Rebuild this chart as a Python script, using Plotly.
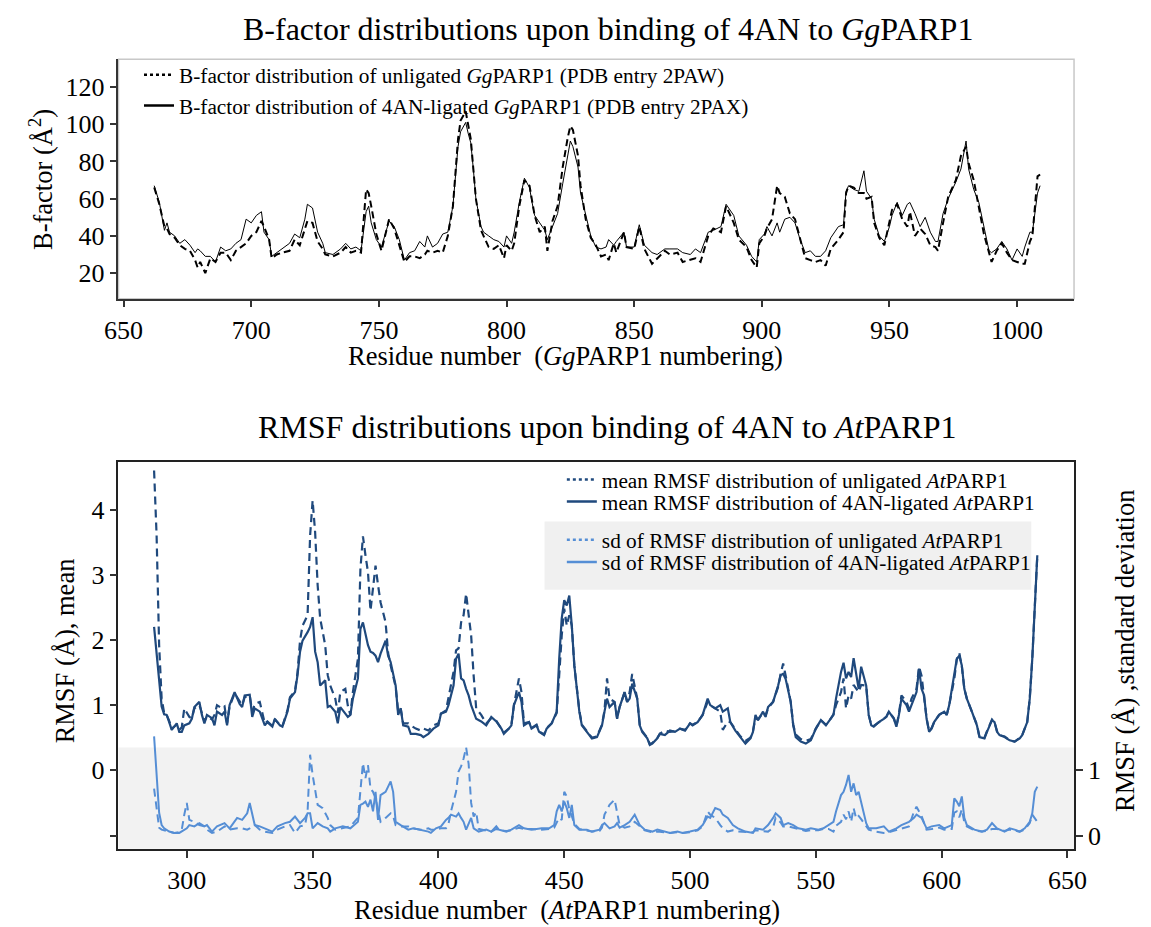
import plotly.graph_objects as go

# ---------------- data: top panel (GgPARP1 B-factors) ----------------
gg_residue = [662,664,666,667,668,670,672,674,676,678,679,680,682,684,686,688,690,692,694,696,698,700,702,704,705,707,708,710,712,715,717,719,721,722,724,726,728,729,732,735,737,739,741,743,745,746,747,749,751,754,756,758,760,762,764,766,768,769,771,773,775,777,779,781,782,784,785,786,787,788,790,791,793,795,797,799,800,802,803,805,807,809,810,811,813,815,816,818,820,822,824,825,826,828,829,831,833,835,837,839,840,842,843,846,847,850,852,854,857,859,862,864,867,869,872,874,876,879,881,884,886,889,891,894,896,898,899,901,902,904,906,907,909,911,913,915,917,919,921,923,925,927,930,932,933,934,936,938,940,941,943,944,946,948,950,951,953,955,957,958,960,962,964,966,968,969,971,973,976,978,980,981,983,985,987,989,990,992,994,996,998,1000,1002,1003,1005,1006,1008,1009]
bfac_ligated = [67,58,43,47,42,40,36,38,35,31,33,32,29,29,26,34,32,33,36,38,49,47,51,53,42,38,29,31,33,36,41,39,49,57,55,42,36,31,30,33,36,33,34,32,53,56,47,38,34,48,45,38,27,31,32,37,34,40,34,36,41,42,56,88,96,101,95,90,76,60,45,42,40,38,37,34,40,36,42,58,71,66,58,51,47,43,38,45,52,68,84,91,88,77,63,51,40,34,33,34,38,35,37,42,34,34,46,35,31,30,33,33,33,31,30,33,31,42,43,45,57,51,40,35,29,26,38,41,45,40,47,42,49,50,47,38,31,32,29,29,32,39,45,46,64,67,65,64,75,64,60,49,40,37,45,51,58,51,57,58,52,45,50,42,37,37,52,60,69,76,91,76,65,58,45,32,31,33,37,33,27,33,29,34,42,42,63,67]
bfac_unligated = [66,57,45,44,41,39,35,33,32,27,23,26,20,28,26,31,31,27,32,34,36,40,42,48,45,38,28,30,31,32,38,35,43,48,47,37,33,30,29,31,34,31,32,31,65,63,56,41,32,49,44,35,26,29,29,28,30,32,31,32,31,40,56,92,102,107,100,92,76,60,43,40,34,33,35,28,35,32,36,56,70,67,60,51,42,45,32,48,56,77,93,99,97,83,67,49,39,35,29,30,27,36,31,42,34,33,45,33,25,28,32,30,31,26,27,28,26,40,44,42,56,47,38,34,27,23,36,40,44,49,67,63,61,52,49,38,28,27,26,27,24,33,38,42,63,67,66,63,63,60,61,47,39,35,49,54,57,49,45,53,40,44,41,35,34,32,47,61,70,83,88,79,70,56,41,31,26,32,36,31,27,26,25,25,37,40,72,73]

# ---------------- data: bottom panel (AtPARP1 RMSF mean) ----------------
at_mean_residue = [287,288,289,290,291,292,293,294,296,297,298,299,301,302,303,305,306,307,308,310,311,312,314,315,316,317,319,321,322,323,325,326,327,329,331,332,334,335,337,338,340,341,343,344,345,346,348,349,350,351,352,353,355,356,357,359,360,361,363,364,365,366,368,369,370,371,372,373,374,375,376,377,379,380,381,383,384,385,386,388,389,391,393,394,396,398,400,401,403,404,406,407,408,409,410,411,412,413,414,415,417,419,421,423,425,426,428,429,430,432,433,434,436,437,439,440,442,443,445,447,448,449,450,451,452,453,454,456,457,459,461,463,465,466,467,468,470,471,472,474,475,476,477,479,480,481,483,484,485,487,488,490,492,494,496,498,500,501,503,505,507,508,510,512,513,515,516,518,520,522,524,525,526,527,529,530,531,533,535,536,537,538,540,541,542,544,546,548,550,552,554,555,557,558,560,561,562,563,564,565,566,567,568,570,571,572,573,575,577,578,579,581,582,583,584,586,587,588,590,591,592,593,594,595,596,597,599,601,602,603,605,606,607,608,609,610,612,614,615,617,618,620,621,622,623,625,627,629,631,632,634,635,636,637,638]
mean_ligated = [2.20,1.80,1.30,0.98,0.86,0.85,0.74,0.62,0.72,0.59,0.59,0.69,0.72,0.79,0.97,1.05,0.85,0.72,0.85,0.80,0.69,0.90,0.85,0.90,0.69,1.00,1.20,1.02,0.97,1.15,1.16,0.82,0.95,0.90,0.69,0.74,0.67,0.79,0.69,0.67,0.90,1.10,1.20,1.46,1.82,1.99,2.12,2.20,2.35,1.82,1.66,1.30,1.38,0.97,0.99,0.90,0.72,0.97,0.87,0.82,0.85,1.10,1.41,2.17,2.27,2.07,1.92,1.82,1.80,1.76,1.66,1.79,1.99,1.76,1.66,1.30,0.85,0.95,0.69,0.67,0.56,0.56,0.54,0.51,0.56,0.64,0.69,0.87,0.90,1.00,1.30,1.71,1.79,1.41,1.38,1.25,1.15,1.00,0.90,0.79,0.75,0.69,0.82,0.75,0.64,0.56,0.64,0.69,1.00,1.20,1.05,0.69,0.74,0.64,0.69,0.59,0.54,0.64,0.72,0.90,1.71,2.33,2.61,2.53,2.68,2.22,1.61,0.90,0.69,0.59,0.49,0.51,0.69,0.90,1.10,0.97,1.05,0.79,0.97,1.20,1.05,1.10,1.33,1.10,0.69,0.59,0.49,0.39,0.41,0.49,0.56,0.54,0.61,0.59,0.64,0.61,0.72,0.69,0.74,0.85,1.10,1.00,0.95,1.00,0.90,0.95,0.74,0.61,0.51,0.41,0.49,0.59,0.85,0.77,0.90,0.82,0.97,1.05,1.30,1.46,1.48,1.40,1.05,0.69,0.51,0.44,0.41,0.46,0.64,0.77,0.69,0.74,0.85,1.10,1.51,1.65,1.41,1.51,1.43,1.72,1.46,1.25,1.59,1.30,0.85,0.69,0.67,0.74,0.79,0.82,0.90,0.79,0.67,0.85,1.10,1.00,0.90,1.00,1.20,1.56,1.25,1.15,0.79,0.59,0.64,0.74,0.85,0.90,0.85,1.00,1.46,1.71,1.76,1.61,1.25,1.10,0.90,0.69,0.51,0.49,0.59,0.77,0.74,0.59,0.54,0.51,0.46,0.44,0.49,0.54,0.74,1.10,1.71,2.48,3.30]
mean_unligated = [4.60,3.60,1.92,1.10,0.88,0.85,0.76,0.64,0.70,0.62,0.66,0.95,0.82,0.80,0.95,1.00,0.88,0.75,0.83,0.78,0.85,1.00,0.95,0.98,0.72,0.98,1.18,1.05,1.00,1.12,1.15,0.90,1.02,1.05,0.72,0.75,0.68,0.78,0.70,0.68,0.92,1.12,1.22,1.50,1.99,2.22,2.38,3.60,4.14,3.65,2.84,2.33,1.92,1.46,1.30,1.10,0.88,1.20,1.25,0.99,0.85,1.20,1.71,3.09,3.59,3.30,3.04,2.45,2.84,3.14,2.84,2.58,2.27,1.80,1.61,1.28,0.90,0.95,0.72,0.72,0.69,0.64,0.61,0.64,0.61,0.69,0.72,0.87,0.92,1.10,1.51,1.84,1.87,2.27,2.38,2.71,2.40,2.07,1.45,0.95,0.85,0.72,0.80,0.76,0.64,0.58,0.64,0.70,1.00,1.41,1.20,0.72,0.74,0.65,0.70,0.60,0.55,0.65,0.72,0.88,1.46,2.07,2.48,2.22,2.38,2.22,1.61,0.92,0.70,0.60,0.50,0.52,0.70,0.92,1.41,1.10,1.05,0.80,0.97,1.20,1.05,1.20,1.48,1.10,0.70,0.60,0.50,0.40,0.42,0.50,0.56,0.61,0.59,0.60,0.64,0.62,0.72,0.70,0.74,0.85,1.05,1.00,0.95,0.90,0.62,0.75,0.74,0.62,0.52,0.45,0.50,0.60,0.80,0.78,0.88,0.84,0.95,1.05,1.28,1.48,1.64,1.45,1.05,0.70,0.55,0.48,0.45,0.48,0.64,0.77,0.70,0.74,0.86,1.00,1.20,1.41,0.95,1.15,1.10,1.31,1.25,1.20,1.31,1.30,0.85,0.70,0.68,0.74,0.79,0.82,0.90,0.80,0.68,0.86,1.15,1.05,0.95,1.10,1.25,1.59,1.45,1.15,0.80,0.60,0.65,0.74,0.85,0.90,0.85,1.00,1.40,1.70,1.80,1.60,1.25,1.10,0.90,0.70,0.52,0.50,0.60,0.78,0.74,0.60,0.54,0.52,0.46,0.44,0.50,0.54,0.74,1.10,1.71,2.48,3.30]

# ---------------- data: bottom panel (AtPARP1 RMSF standard deviation) ----------------
at_sd_residue = [287,288,289,290,291,293,295,297,298,299,300,301,303,305,307,308,310,312,315,317,320,322,324,325,327,329,331,334,336,339,341,343,345,347,348,349,350,352,354,356,357,359,362,365,368,369,370,371,372,373,374,375,376,377,379,381,382,383,385,388,390,393,396,397,399,401,403,404,405,407,408,409,410,411,412,413,414,415,416,419,421,423,424,427,429,432,434,437,441,444,446,447,448,449,450,451,452,453,454,456,459,461,464,465,466,468,470,471,472,474,476,478,480,482,485,487,490,492,495,497,500,503,505,507,508,510,512,513,515,517,519,522,525,526,529,531,533,534,536,537,539,541,543,546,548,551,553,555,557,558,560,561,562,563,564,565,566,567,568,570,571,574,577,579,582,584,587,589,590,592,594,596,599,601,604,605,606,607,608,609,610,613,616,618,620,622,625,627,629,631,633,635,636,637,638]
sd_ligated = [1.52,1.00,0.35,0.16,0.11,0.06,0.04,0.04,0.06,0.08,0.11,0.16,0.14,0.19,0.14,0.16,0.06,0.14,0.19,0.11,0.27,0.24,0.34,0.50,0.16,0.14,0.11,0.06,0.14,0.19,0.21,0.29,0.19,0.27,0.34,0.34,0.11,0.19,0.14,0.11,0.06,0.11,0.14,0.11,0.21,0.47,0.49,0.52,0.44,0.55,0.37,0.67,0.24,0.62,0.67,0.83,0.67,0.21,0.16,0.09,0.11,0.09,0.06,0.04,0.11,0.14,0.24,0.27,0.32,0.29,0.34,0.27,0.21,0.09,0.19,0.27,0.11,0.09,0.06,0.09,0.06,0.14,0.09,0.06,0.09,0.16,0.11,0.09,0.11,0.11,0.16,0.37,0.47,0.37,0.52,0.42,0.27,0.47,0.16,0.09,0.09,0.06,0.09,0.16,0.19,0.11,0.14,0.19,0.12,0.16,0.21,0.32,0.16,0.09,0.06,0.09,0.06,0.04,0.06,0.04,0.06,0.09,0.16,0.29,0.27,0.42,0.39,0.32,0.27,0.16,0.11,0.06,0.04,0.11,0.09,0.16,0.27,0.34,0.27,0.16,0.19,0.16,0.11,0.09,0.11,0.09,0.11,0.16,0.21,0.37,0.62,0.67,0.78,0.93,0.67,0.80,0.62,0.67,0.52,0.19,0.11,0.11,0.14,0.06,0.11,0.16,0.21,0.27,0.32,0.27,0.11,0.14,0.16,0.11,0.16,0.57,0.52,0.45,0.60,0.27,0.16,0.09,0.06,0.09,0.19,0.11,0.06,0.11,0.09,0.06,0.11,0.21,0.34,0.67,0.75]
sd_unligated = [0.72,0.40,0.12,0.09,0.08,0.05,0.04,0.05,0.09,0.32,0.50,0.24,0.21,0.16,0.14,0.09,0.04,0.06,0.14,0.09,0.11,0.11,0.09,0.11,0.16,0.09,0.06,0.04,0.09,0.14,0.16,0.04,0.14,0.16,0.37,1.24,0.93,0.47,0.42,0.27,0.16,0.09,0.11,0.14,0.27,0.72,1.11,0.88,1.08,0.72,0.67,0.57,0.37,0.21,0.27,0.34,0.30,0.16,0.14,0.14,0.11,0.09,0.11,0.09,0.09,0.11,0.11,0.18,0.37,0.67,0.98,1.06,1.18,1.35,1.10,0.50,0.29,0.36,0.10,0.08,0.06,0.10,0.08,0.07,0.08,0.12,0.10,0.10,0.09,0.10,0.12,0.20,0.27,0.24,0.67,0.60,0.40,0.30,0.18,0.10,0.08,0.06,0.07,0.12,0.32,0.47,0.55,0.37,0.16,0.12,0.14,0.21,0.14,0.08,0.05,0.06,0.05,0.04,0.05,0.04,0.05,0.08,0.14,0.37,0.32,0.27,0.16,0.11,0.06,0.08,0.06,0.05,0.05,0.08,0.07,0.06,0.12,0.27,0.20,0.14,0.14,0.12,0.09,0.07,0.08,0.08,0.10,0.10,0.06,0.15,0.21,0.32,0.25,0.37,0.21,0.42,0.26,0.30,0.25,0.15,0.09,0.06,0.04,0.05,0.08,0.10,0.14,0.37,0.44,0.30,0.09,0.10,0.12,0.09,0.10,0.35,0.37,0.28,0.40,0.20,0.14,0.08,0.06,0.07,0.10,0.10,0.07,0.09,0.08,0.06,0.09,0.19,0.32,0.27,0.21]

# ---------------- labels ----------------
top_title = "B-factor distributions upon binding of 4AN to <i>Gg</i>PARP1"
bot_title = "RMSF distributions upon binding of 4AN to <i>At</i>PARP1"
top_xtitle = "Residue number\u00a0 (<i>Gg</i>PARP1 numbering)"
bot_xtitle = "Residue number\u00a0 (<i>At</i>PARP1 numbering)"
top_ytitle = "B-factor (Å<sup>2</sup>)"
bot_ytitle_left = "RMSF (Å), mean"
bot_ytitle_right = "RMSF (Å) ,standard deviation"
top_legend_names = ["B-factor distribution of unligated <i>Gg</i>PARP1 (PDB entry 2PAW)",
                    "B-factor distribution of 4AN-ligated <i>Gg</i>PARP1 (PDB entry 2PAX)"]
bot_legend_names = ["mean RMSF distribution of unligated <i>At</i>PARP1",
                    "mean RMSF distribution of 4AN-ligated <i>At</i>PARP1",
                    "sd of RMSF distribution of unligated <i>At</i>PARP1",
                    "sd of RMSF distribution of 4AN-ligated <i>At</i>PARP1"]
top_xticks = [650, 700, 750, 800, 850, 900, 950, 1000]
top_yticks = [20, 40, 60, 80, 100, 120]
bot_xticks = [300, 350, 400, 450, 500, 550, 600, 650]
bot_yticks = [-1, 0, 1, 2, 3, 4]
bot_yticktext = ["", "0", "1", "2", "3", "4"]
sd_ticks = [0, 1]

# ---------------- style / layout constants ----------------
W, H = 1151, 927
FONT = "Liberation Serif"
DARK = "#1f497d"
LIGHT = "#558ed5"
AX = "#333333"

def px_x(p):
    return p / W

def px_y(p):
    return 1 - p / H

xdom = [px_x(107.0), px_x(1085.5)]
top_ydom = [px_y(299.3), px_y(59.3)]
bot_ydom = [px_y(850.7), px_y(462.7)]
top_xrange = [648.0, 1022.3]
top_yrange = [6.27, 135.0]
bot_xrange = [272.85, 652.6]
bot_yrange = [-1.205, 4.735]
sd_shift = 1.0
sd_range = [bot_yrange[0] + sd_shift, bot_yrange[1] + sd_shift]
band_top = 0.351  # mean-axis value where grey band ends

fig = go.Figure()

# top panel data
fig.add_trace(go.Scatter(x=gg_residue, y=bfac_unligated, mode="lines", showlegend=False,
                         line=dict(color="black", width=2, dash="7px,4px"), xaxis="x", yaxis="y"))
fig.add_trace(go.Scatter(x=gg_residue, y=bfac_ligated, mode="lines", showlegend=False,
                         line=dict(color="black", width=1), xaxis="x", yaxis="y"))

# bottom panel data
fig.add_trace(go.Scatter(x=at_sd_residue, y=sd_unligated, mode="lines", showlegend=False,
                         line=dict(color=LIGHT, width=2, dash="8px,5px"), xaxis="x2", yaxis="y3"))
fig.add_trace(go.Scatter(x=at_sd_residue, y=sd_ligated, mode="lines", showlegend=False,
                         line=dict(color=LIGHT, width=2), xaxis="x2", yaxis="y3"))
fig.add_trace(go.Scatter(x=at_mean_residue, y=mean_unligated, mode="lines", showlegend=False,
                         line=dict(color=DARK, width=2.2, dash="8px,5px"), xaxis="x2", yaxis="y2"))
fig.add_trace(go.Scatter(x=at_mean_residue, y=mean_ligated, mode="lines", showlegend=False,
                         line=dict(color=DARK, width=2.2), xaxis="x2", yaxis="y2"))

# legend entries (one legend per row)
leg_specs = [
    (top_legend_names[0], "black", "dot", "legend", "x", "y"),
    (top_legend_names[1], "black", "solid", "legend2", "x", "y"),
    (bot_legend_names[0], DARK, "dot", "legend3", "x2", "y2"),
    (bot_legend_names[1], DARK, "solid", "legend4", "x2", "y2"),
    (bot_legend_names[2], LIGHT, "dot", "legend5", "x2", "y3"),
    (bot_legend_names[3], LIGHT, "solid", "legend6", "x2", "y3"),
]
for name, col, dash, leg, xa, ya in leg_specs:
    fig.add_trace(go.Scatter(x=[None], y=[None], mode="lines", name=name, legend=leg,
                             line=dict(color=col, width=2.5, dash=dash), xaxis=xa, yaxis=ya))

leg_rows = {"legend": (128, 75), "legend2": (128, 106),
            "legend3": (561, 480.7), "legend4": (561, 502.7),
            "legend5": (561, 541), "legend6": (561, 563.3)}
legend_layout = {}
for k, (lx, ly) in leg_rows.items():
    legend_layout[k] = dict(x=px_x(lx), y=px_y(ly), xanchor="left", yanchor="middle",
                            bgcolor="rgba(0,0,0,0)", borderwidth=0,
                            font=dict(family=FONT, size=21.3, color="black"))

tickfont = dict(family=FONT, size=26, color="black")
common_ax = dict(showgrid=False, zeroline=False, ticks="outside", ticklen=7, tickwidth=1.5,
                 tickcolor=AX, showline=True, linecolor=AX, linewidth=1.5, tickfont=tickfont)

fig.update_layout(
    width=W, height=H, margin=dict(l=0, r=0, t=0, b=0),
    paper_bgcolor="white", plot_bgcolor="white",
    font=dict(family=FONT, color="black"),
    xaxis=dict(domain=xdom, anchor="y", range=top_xrange, tickvals=top_xticks, **common_ax),
    yaxis=dict(domain=top_ydom, anchor="x", range=top_yrange, tickvals=top_yticks, **common_ax),
    xaxis2=dict(domain=xdom, anchor="y2", range=bot_xrange, tickvals=bot_xticks, mirror=True,
                **{**common_ax, "linecolor": "#222222"}),
    yaxis2=dict(domain=bot_ydom, anchor="x2", range=bot_yrange, tickvals=bot_yticks,
                ticktext=bot_yticktext, mirror=True, **{**common_ax, "linecolor": "#222222"}),
    yaxis3=dict(overlaying="y2", anchor="x2", side="right", range=sd_range, tickvals=sd_ticks,
                **{**common_ax, "linecolor": "#222222"}),
    **legend_layout,
)

# light frame of the top panel (top/right edges)
fig.add_shape(type="rect", xref="x domain", yref="y domain", x0=0, x1=1, y0=0, y1=1,
              line=dict(color="#c8c8c8", width=1.5), layer="below")
# grey band behind the sd curves
band_frac = (band_top - bot_yrange[0]) / (bot_yrange[1] - bot_yrange[0])
fig.add_shape(type="rect", xref="x2 domain", yref="y2 domain", x0=0, x1=1, y0=0, y1=band_frac,
              fillcolor="#f2f2f2", line=dict(width=0), layer="below")
# grey background of the sd legend block
fig.add_shape(type="rect", xref="paper", yref="paper", x0=px_x(543.3), x1=px_x(1041.7),
              y0=px_y(591), y1=px_y(522.7), fillcolor="#f0f0f0", line=dict(width=0), layer="below")

ann = [
    (top_title, 608, 29, 0, 32),
    (bot_title, 608, 428, 0, 32),
    (top_xtitle, 565, 357, 0, 26.5),
    (bot_xtitle, 566, 912, 0, 26.5),
    (top_ytitle, 27, 180, -90, 26.5),
    (bot_ytitle_left, 52, 652, -90, 26.5),
    (bot_ytitle_right, 1137, 652, -90, 26.5),
]
for text, ax_, ay_, ang, fs in ann:
    fig.add_annotation(text=text, x=px_x(ax_), y=px_y(ay_), xref="paper", yref="paper",
                       xanchor="center", yanchor="middle", showarrow=False, textangle=ang,
                       font=dict(family=FONT, size=fs, color="black"))

fig.write_html("out.html")
